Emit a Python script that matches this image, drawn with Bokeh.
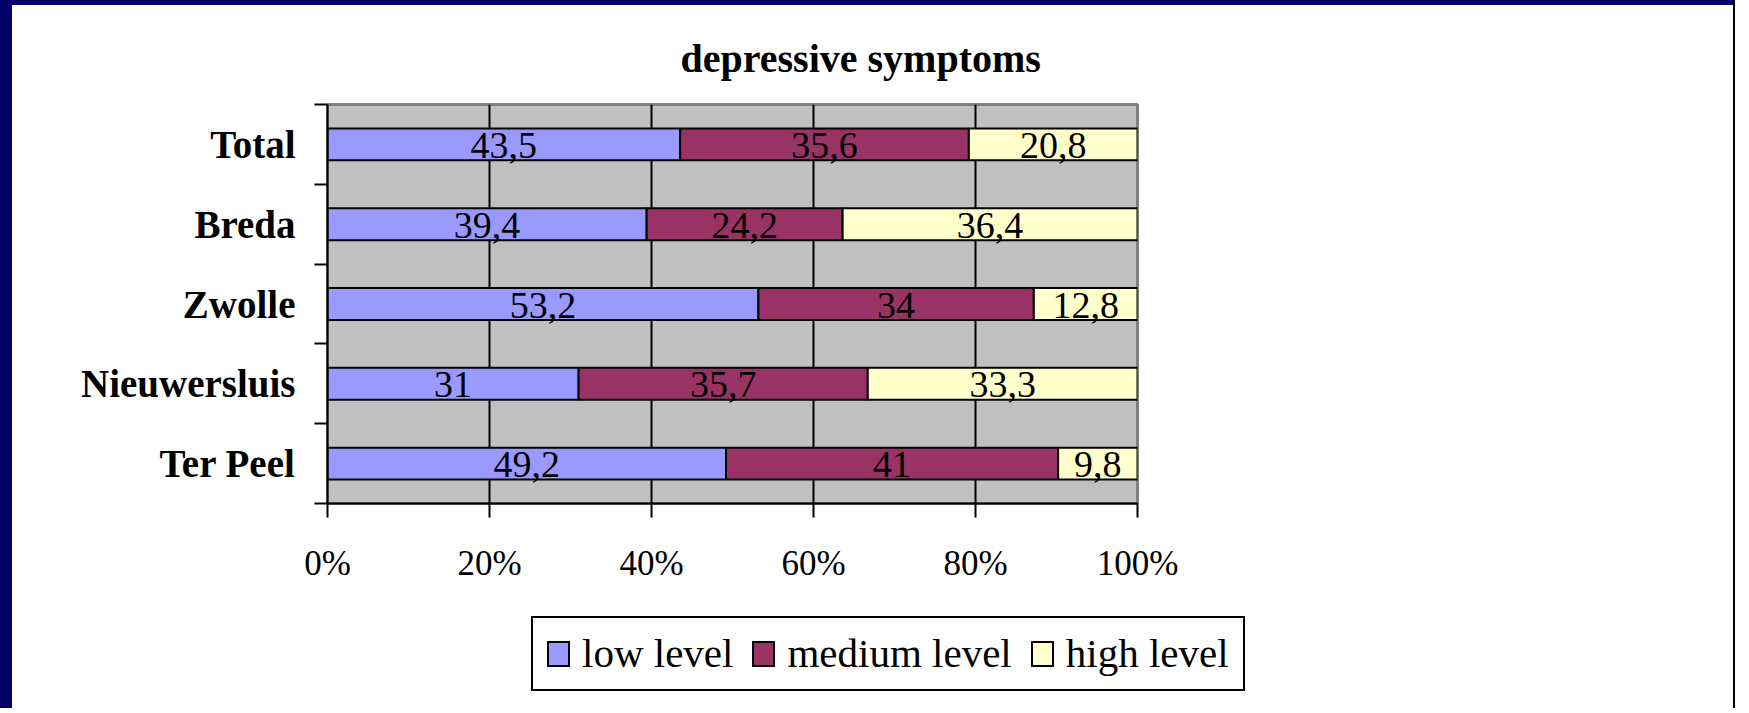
from bokeh.plotting import figure
from bokeh.layouts import column
from bokeh.models import (ColumnDataSource, Range1d, FixedTicker, NumeralTickFormatter, Div)
from bokeh.core.properties import value
from bokeh.embed import file_html
from bokeh.resources import INLINE

# ---- data ----
categories = ["Total", "Breda", "Zwolle", "Nieuwersluis", "Ter Peel"]
low_level = [43.5, 39.4, 53.2, 31, 49.2]
medium_level = [35.6, 24.2, 34, 35.7, 41]
high_level = [20.8, 36.4, 12.8, 33.3, 9.8]
series_names = ["low level", "medium level", "high level"]
series_colors = ["#9999FF", "#993366", "#FFFFCC"]
x_ticks = [0, 0.2, 0.4, 0.6, 0.8, 1.0]
title_text = "depressive symptoms"

# ---- layout (page pixels) ----
OX, OY = 12, 5            # css border (navy frame) widths
W = 1749 - OX - 2
SPLIT = 590               # page y where the legend strip starts
H1 = SPLIT - OY
H2 = 713 - SPLIT
FL, FR, FT, FB = 327 - OX, 1137 - OX, 104 - OY, 503 - OY
LEG_LEFT, LEG_TOP, LEG_W, LEG_H = 531 - OX, 621 - SPLIT, 714, 75
FONT = "Liberation Serif"

n = len(categories)
ypos = [n - i - 0.5 for i in range(n)]
series = [low_level, medium_level, high_level]
totals = [sum(v) for v in zip(*series)]
fracs = [[v / t for v, t in zip(s, totals)] for s in series]

src = ColumnDataSource(dict(y=ypos, low=fracs[0], medium=fracs[1], high=fracs[2]))

p = figure(width=W, height=H1, x_range=Range1d(0, 1), y_range=Range1d(0, n),
           output_backend="svg", toolbar_location=None,
           min_border_left=FL, min_border_right=W - FR,
           min_border_top=FT, min_border_bottom=H1 - FB)
p.styles = {"border-left": "12px solid #000066", "border-top": "5px solid #000066",
            "border-right": "2px solid black"}

p.background_fill_color = "#C0C0C0"
p.border_fill_color = "white"
p.outline_line_color = "#808080"
p.outline_line_width = 3

# bars
rs = p.hbar_stack(["low", "medium", "high"], y="y", height=0.4, source=src,
                  color=series_colors, line_color="black", line_width=2)
for r, c in zip(rs, series_colors):
    r.glyph.fill_color = c
    r.glyph.line_color = "black"

# data labels (centred in each segment)
lx, ly, lt = [], [], []
cum = [0.0] * n
for s_vals, s_fr in zip(series, fracs):
    for i in range(n):
        lx.append(cum[i] + s_fr[i] / 2)
        ly.append(ypos[i])
        lt.append(("%g" % s_vals[i]).replace(".", ","))
        cum[i] += s_fr[i]
lsrc = ColumnDataSource(dict(x=lx, y=ly, t=lt))
p.text(x="x", y="y", text="t", source=lsrc, text_font=value(FONT),
       text_font_size="38px", text_align="center", text_baseline="middle",
       text_color="black", y_offset=1)

# x axis
xa = p.xaxis[0]
xa.ticker = FixedTicker(ticks=x_ticks)
xa.formatter = NumeralTickFormatter(format="0%")
xa.axis_line_color = "black"
xa.axis_line_width = 2
xa.major_tick_out = 14
xa.major_tick_in = 0
xa.major_tick_line_color = "black"
xa.major_tick_line_width = 2
xa.minor_tick_line_color = None
xa.major_label_text_font = FONT
xa.major_label_text_font_size = "35px"
xa.major_label_text_color = "black"
xa.major_label_standoff = 26

# y axis: labels at band centres, ticks at band boundaries
ya = p.yaxis[0]
ya.ticker = FixedTicker(ticks=ypos, minor_ticks=list(range(n + 1)))
ya.major_label_overrides = {y: c for y, c in zip(ypos, categories)}
ya.axis_line_color = "black"
ya.axis_line_width = 2
ya.major_tick_out = 0
ya.major_tick_in = 0
ya.minor_tick_out = 13
ya.minor_tick_in = 0
ya.minor_tick_line_color = "black"
ya.minor_tick_line_width = 2
ya.major_label_text_font = FONT
ya.major_label_text_font_size = "39px"
ya.major_label_text_font_style = "bold"
ya.major_label_text_color = "black"
ya.major_label_standoff = 19

# grid
p.xgrid.ticker = FixedTicker(ticks=x_ticks[1:-1])
p.xgrid.grid_line_color = "black"
p.xgrid.grid_line_width = 2
p.ygrid.grid_line_color = None

# title
p.title.text = title_text
p.title.text_font = FONT
p.title.text_font_size = "40px"
p.title.text_font_style = "bold"
p.title.text_color = "black"
p.title.align = "left"
p.title.offset = 353
p.title.standoff = 48

# ---- legend strip below the chart ----
item_html = []
for k, (nm, c) in enumerate(zip(series_names, series_colors)):
    gap = 0 if k == len(series_names) - 1 else 19
    item_html.append(
        f'<span style="display:inline-flex;align-items:center;margin-right:{gap}px">'
        f'<span style="display:inline-block;box-sizing:border-box;width:23px;height:26px;'
        f'background:{c};border:2px solid black;margin-right:12px"></span>{nm}</span>')
legend_html = (
    f'<div style="margin-left:{LEG_LEFT}px;margin-top:{LEG_TOP}px;width:{LEG_W}px;'
    f'height:{LEG_H}px;box-sizing:border-box;border:2px solid black;background:white;'
    f'padding-left:14px;display:flex;align-items:center;white-space:nowrap;'
    f'font-family:\'{FONT}\';font-size:41px;line-height:1;color:black">'
    + "".join(item_html) + '</div>')
leg = Div(text=legend_html, width=W, height=H2,
          styles={"border-left": "12px solid #000066", "border-right": "2px solid black",
                  "background-color": "white", "margin": "0", "padding": "0"})

layout = column(p, leg, spacing=0)
open("out.html", "w").write(file_html(layout, INLINE))
